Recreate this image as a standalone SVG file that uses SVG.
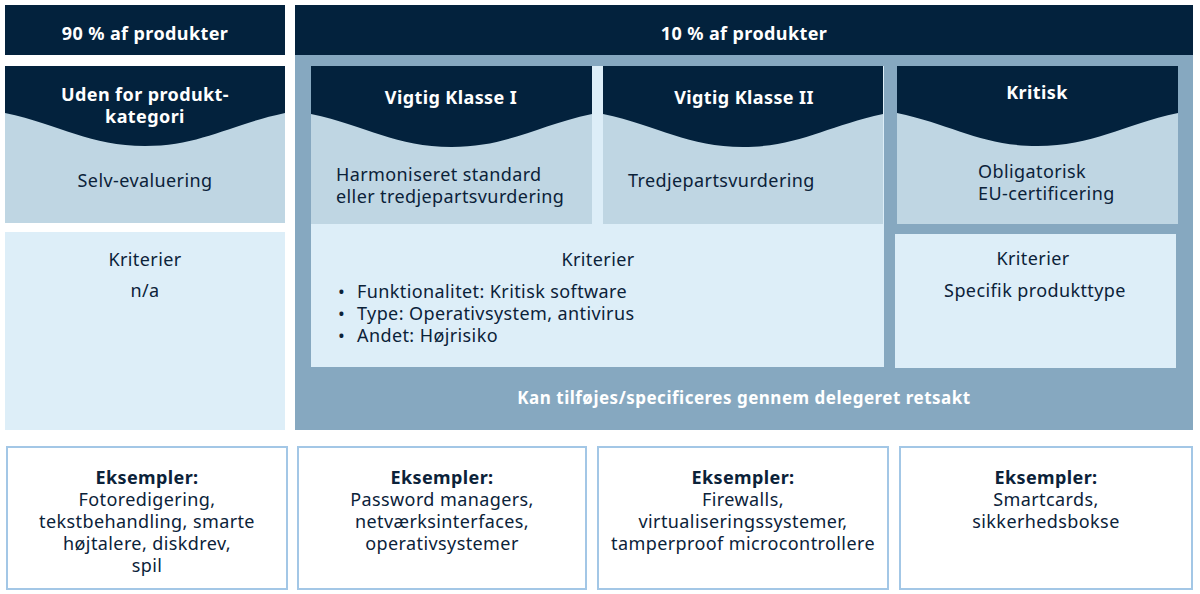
<svg xmlns="http://www.w3.org/2000/svg" width="1200" height="594" viewBox="0 0 1200 594">
<style>
.dark{fill:#03223d}
.mid{fill:#86a8c0}
.pale{fill:#bfd6e3}
.light{fill:#ddeef8}
.ex{fill:#ffffff;stroke:#a3c7e6;stroke-width:2}
text{font-family:"Noto Sans","Liberation Sans",sans-serif;font-size:18px;letter-spacing:0.4px;fill:#0b2239}
.h{fill:#ffffff;font-weight:bold;text-anchor:middle}
.f{font-size:17px;letter-spacing:0.5px}
.c{text-anchor:middle}
.b{font-weight:bold}
</style>
<rect width="1200" height="594" fill="#ffffff"/>
<g id="hdr90">
<rect class="dark" x="5" y="5" width="280" height="50"/>
<text class="h" x="145" y="40">90 % af produkter</text>
</g>
<g id="panel10">
<rect class="mid" x="295" y="5" width="898" height="425"/>
<rect class="dark" x="295" y="5" width="898" height="50"/>
<text class="h" x="744" y="40">10 % af produkter</text>
<text class="h f" x="744" y="404">Kan tilføjes/specificeres gennem delegeret retsakt</text>
</g>
<g id="uden">
<rect class="pale" x="5" y="66" width="280" height="157"/>
<path class="dark" d="M5 66H285V113C229 125 200 146 145 146C90 146 61 125 5 113Z"/>
<text class="h" x="145" y="101">Uden for produkt-</text>
<text class="h" x="145" y="123">kategori</text>
<text class="c" x="145" y="187">Selv-evaluering</text>
</g>
<g id="krit-left">
<rect class="light" x="5" y="232" width="280" height="198"/>
<text class="c" x="145" y="266">Kriterier</text>
<text class="c" x="145" y="297">n/a</text>
</g>
<g id="krit-mid">
<rect class="light" x="311" y="66" width="573" height="301"/>
<text class="c" x="598" y="266">Kriterier</text>
<text x="338" y="298">•</text><text x="357" y="298">Funktionalitet: Kritisk software</text>
<text x="338" y="320">•</text><text x="357" y="320">Type: Operativsystem, antivirus</text>
<text x="338" y="342">•</text><text x="357" y="342">Andet: Højrisiko</text>
</g>
<g id="vigtig1">
<rect class="pale" x="311" y="66" width="281" height="158"/>
<path class="dark" d="M311 66H592V114C536 126 507 147 451.5 147C396 147 367 126 311 114Z"/>
<text class="h" x="451" y="104">Vigtig Klasse I</text>
<text x="336" y="181">Harmoniseret standard</text>
<text x="336" y="203">eller tredjepartsvurdering</text>
</g>
<g id="vigtig2">
<rect class="pale" x="603" y="66" width="280" height="158"/>
<path class="dark" d="M603 66H883V114C827 126 798 147 743 147C688 147 659 126 603 114Z"/>
<text class="h" x="744" y="104">Vigtig Klasse II</text>
<text x="628" y="187">Tredjepartsvurdering</text>
</g>
<g id="kritisk">
<rect class="pale" x="897" y="66" width="281" height="158"/>
<path class="dark" d="M897 66H1178V113C1122 125 1093 146 1037.5 146C982 146 953 125 897 113Z"/>
<text class="h" x="1037" y="99">Kritisk</text>
<text x="978" y="178">Obligatorisk</text>
<text x="978" y="200">EU-certificering</text>
</g>
<g id="krit-right">
<rect class="light" x="895" y="234" width="281" height="134"/>
<text class="c" x="1033" y="265">Kriterier</text>
<text class="c" x="1035" y="297">Specifik produkttype</text>
</g>
<g id="ex1">
<rect class="ex" x="7" y="447" width="280" height="142"/>
<text class="c b" x="147" y="484">Eksempler:</text>
<text class="c" x="147" y="506">Fotoredigering,</text>
<text class="c" x="147" y="528">tekstbehandling, smarte</text>
<text class="c" x="147" y="550">højtalere, diskdrev,</text>
<text class="c" x="147" y="572">spil</text>
</g>
<g id="ex2">
<rect class="ex" x="298" y="447" width="288" height="142"/>
<text class="c b" x="442" y="484">Eksempler:</text>
<text class="c" x="442" y="506">Password managers,</text>
<text class="c" x="442" y="528">netværksinterfaces,</text>
<text class="c" x="442" y="550">operativsystemer</text>
</g>
<g id="ex3">
<rect class="ex" x="598" y="447" width="290" height="142"/>
<text class="c b" x="743" y="484">Eksempler:</text>
<text class="c" x="743" y="506">Firewalls,</text>
<text class="c" x="743" y="528">virtualiseringssystemer,</text>
<text class="c" x="743" y="550">tamperproof microcontrollere</text>
</g>
<g id="ex4">
<rect class="ex" x="900" y="447" width="292" height="142"/>
<text class="c b" x="1046" y="484">Eksempler:</text>
<text class="c" x="1046" y="506">Smartcards,</text>
<text class="c" x="1046" y="528">sikkerhedsbokse</text>
</g>
<g id="connectors"/>
</svg>
